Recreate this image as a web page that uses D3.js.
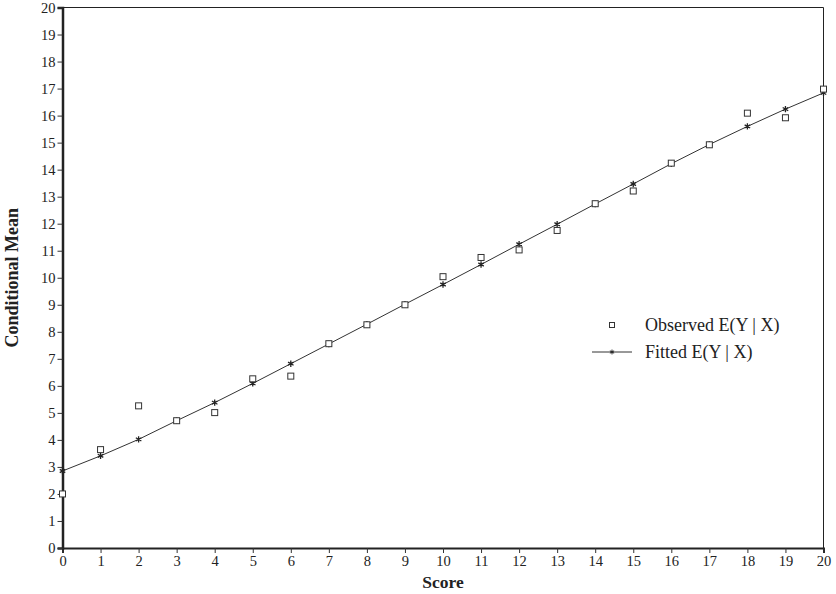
<!DOCTYPE html>
<html lang="en">
  <head>
    <meta charset="UTF-8" />
    <script src="https://cdn.jsdelivr.net/npm/d3@7"></script>
    <style>
      * {
        margin: 0;
        padding: 0;
      }
      body {
        background: #fff;
      }
      svg {
        display: block;
        font-family: 'Liberation Serif', 'Times New Roman', serif;
      }
    </style>
    <title>Conditional Mean</title>
  </head>
  <body>
    <div id="container"></div>
    <script>
      const scores = d3.range(0, 21);
      const observed = [
        2.0, 3.64, 5.26, 4.71, 5.01, 6.26, 6.36, 7.56, 8.26, 9.0, 10.04,
        10.75, 11.03, 11.75, 12.74, 13.21, 14.24, 14.92, 16.09, 15.92, 16.98,
      ];
      const fitted = [
        2.85, 3.41, 4.02, 4.71, 5.38, 6.09, 6.82, 7.55, 8.28, 9.02, 9.75,
        10.49, 11.24, 11.98, 12.73, 13.47, 14.22, 14.93, 15.6, 16.24, 16.84,
      ];
      const xTicks = d3.range(0, 21);
      const yTicks = d3.range(0, 21);
      const legendLabels = ['Observed E(Y | X)', 'Fitted E(Y | X)'];

      const width = 836;
      const height = 594;
      const margin = { top: 7.5, right: 12.5, bottom: 46, left: 62.5 };

      const svg = d3
        .select('#container')
        .append('svg')
        .attr('width', width)
        .attr('height', height);

      const x = d3
        .scaleLinear()
        .domain([0, 20])
        .range([margin.left, width - margin.right]);
      const y = d3
        .scaleLinear()
        .domain([0, 20])
        .range([height - margin.bottom, margin.top]);

      // top and right frame
      svg
        .append('path')
        .attr('d', `M${x(0)},${y(20)}H${x(20)}V${y(0)}`)
        .attr('fill', 'none')
        .attr('stroke', '#222')
        .attr('stroke-width', 1);

      // x axis
      const xAxis = svg
        .append('g')
        .attr('transform', `translate(0,${y(0)})`)
        .call(d3.axisBottom(x).tickValues(xTicks).tickSize(5).tickPadding(3));
      xAxis.select('.domain').attr('stroke', '#222').attr('stroke-width', 2);
      xAxis.selectAll('.tick line').attr('stroke', '#333');
      xAxis
        .selectAll('.tick text')
        .attr('font-family', 'Liberation Serif')
        .attr('font-size', 14.5)
        .attr('fill', '#222');

      // y axis
      const yAxis = svg
        .append('g')
        .attr('transform', `translate(${x(0)},0)`)
        .call(d3.axisLeft(y).tickValues(yTicks).tickSize(5).tickPadding(2));
      yAxis.select('.domain').attr('stroke', '#222').attr('stroke-width', 2.5);
      yAxis.selectAll('.tick line').attr('stroke', '#333');
      yAxis
        .selectAll('.tick text')
        .attr('font-family', 'Liberation Serif')
        .attr('font-size', 14.5)
        .attr('fill', '#222');

      // axis titles
      svg
        .append('text')
        .text('Score')
        .attr('x', (x(0) + x(20)) / 2)
        .attr('y', 588)
        .attr('text-anchor', 'middle')
        .attr('font-size', 17.5)
        .attr('font-weight', 'bold')
        .attr('fill', '#222');

      svg
        .append('text')
        .text('Conditional Mean')
        .attr('transform', `translate(18,${(y(0) + y(20)) / 2}) rotate(-90)`)
        .attr('text-anchor', 'middle')
        .attr('font-size', 18)
        .attr('font-weight', 'bold')
        .attr('fill', '#222');

      // fitted line
      const line = d3
        .line()
        .x((d, i) => x(scores[i]))
        .y((d) => y(d));
      svg
        .append('path')
        .datum(fitted)
        .attr('d', line)
        .attr('fill', 'none')
        .attr('stroke', '#333')
        .attr('stroke-width', 1);

      const star = d3.symbol().type(d3.symbolAsterisk).size(28);

      // fitted stars
      svg
        .append('g')
        .selectAll('path')
        .data(fitted)
        .join('path')
        .attr('transform', (d, i) => `translate(${x(scores[i])},${y(d)})`)
        .attr('d', star)
        .attr('fill', 'none')
        .attr('stroke', '#222')
        .attr('stroke-width', 1.3);

      // observed squares
      svg
        .append('g')
        .selectAll('rect')
        .data(observed)
        .join('rect')
        .attr('x', (d, i) => x(scores[i]) - 3)
        .attr('y', (d) => y(d) - 3)
        .attr('width', 6)
        .attr('height', 6)
        .attr('fill', '#fff')
        .attr('stroke', '#333')
        .attr('stroke-width', 1);

      // legend
      const legend = svg.append('g').attr('transform', 'translate(612,325)');
      legend
        .append('rect')
        .attr('x', -2.5)
        .attr('y', -2.5)
        .attr('width', 5)
        .attr('height', 5)
        .attr('fill', '#fff')
        .attr('stroke', '#333');
      legend
        .append('text')
        .text(legendLabels[0])
        .attr('x', 33)
        .attr('y', 6)
        .attr('font-size', 18)
        .attr('fill', '#222');
      legend
        .append('line')
        .attr('x1', -20)
        .attr('x2', 20)
        .attr('y1', 27)
        .attr('y2', 27)
        .attr('stroke', '#333');
      legend
        .append('path')
        .attr('transform', 'translate(0,27)')
        .attr('d', d3.symbol().type(d3.symbolAsterisk).size(16))
        .attr('fill', 'none')
        .attr('stroke', '#222');
      legend
        .append('text')
        .text(legendLabels[1])
        .attr('x', 33)
        .attr('y', 33)
        .attr('font-size', 18)
        .attr('fill', '#222');
    </script>
  </body>
</html>
